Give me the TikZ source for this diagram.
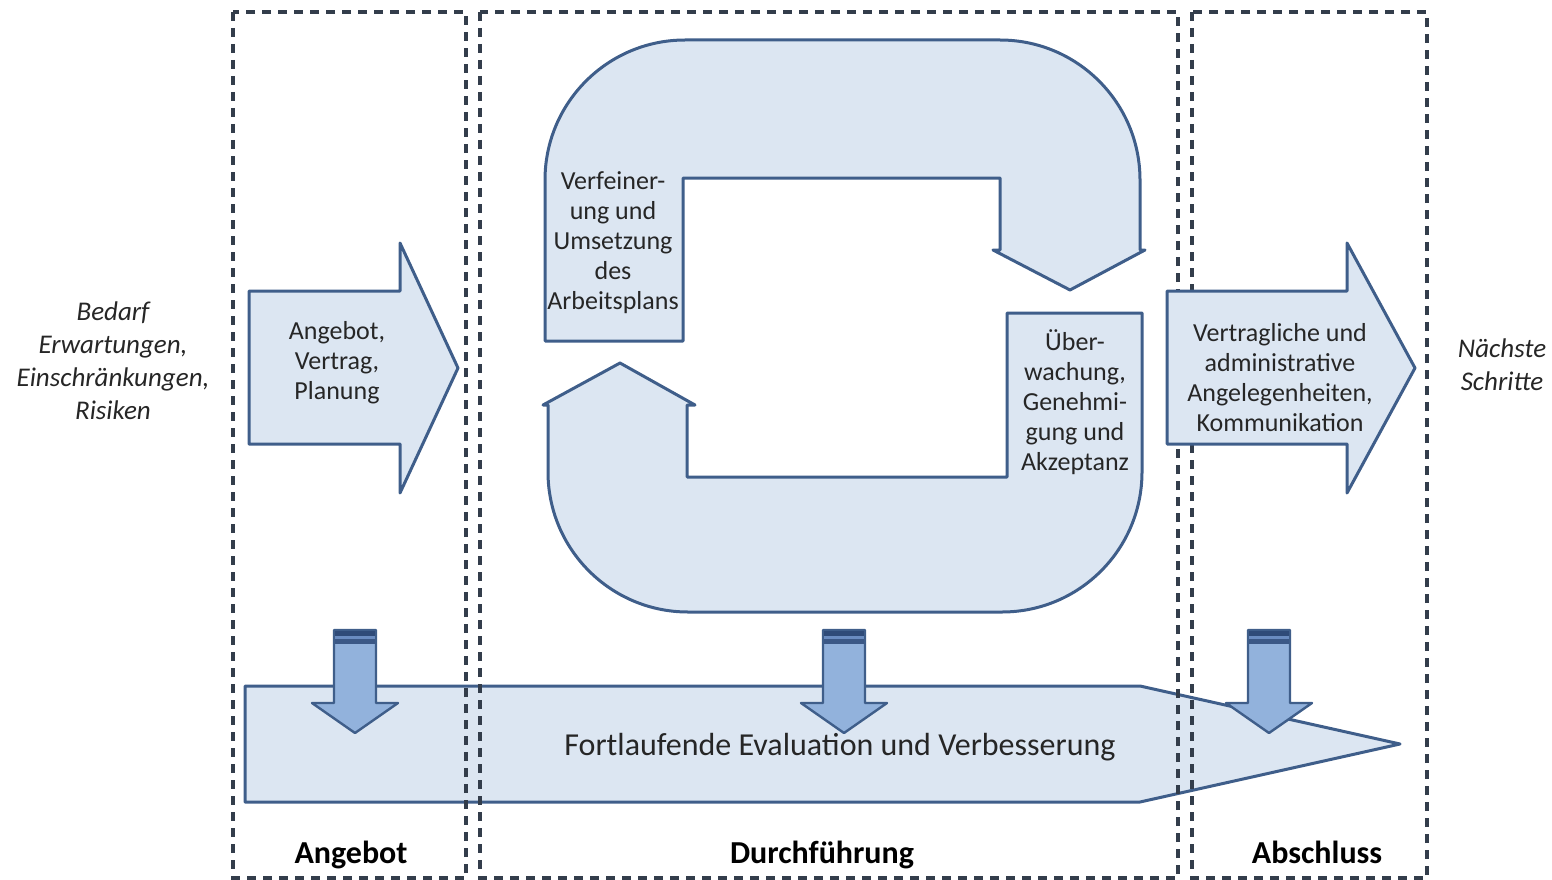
\documentclass[tikz,border=0pt]{standalone}
\usepackage{fontspec}
\setmainfont{Carlito}
\usetikzlibrary{positioning,calc}
\definecolor{dashgray}{HTML}{333D4B}
\definecolor{paleblue}{HTML}{DCE6F2}
\definecolor{edgeblue}{HTML}{3F5E8A}
\definecolor{midblue}{HTML}{92B2DC}
\definecolor{bandnavy}{HTML}{2F4B78}
\definecolor{bandmid}{HTML}{6A8CC0}
\definecolor{ink}{HTML}{262626}
\newcommand{\txt}{\fontsize{26pt}{30pt}\selectfont}
\tikzset{
  phasebox/.style={draw=dashgray, line width=3.4pt, dash pattern=on 9pt off 7pt},
  blockarr/.style={draw=edgeblue, line width=3pt, fill=paleblue, line join=round},
  downarr/.style={draw=edgeblue, line width=2.4pt, fill=midblue, line join=round},
  lab/.style={font=\txt, text=ink, align=center},
  sidelab/.style={font=\fontsize{27pt}{33pt}\selectfont\itshape, text=ink, align=center},
  phaselab/.style={font=\fontsize{32pt}{36pt}\selectfont\bfseries, text=black, anchor=base},
}

\begin{document}
\begin{tikzpicture}[x=1pt, y=-1pt]
    \useasboundingbox (0,0) rectangle (1552,880);
    % long arrow at the bottom
    \draw[blockarr] (245,686) -- (1140,686) -- (1400,744) -- (1140,802) -- (245,802) -- cycle;
    % phases
    \draw[phasebox] (233,12) rectangle (466,878);
    \draw[phasebox] (480,12) rectangle (1178,878);
    \draw[phasebox] (1192,12) rectangle (1427,878);
    % in and out arrows
    \draw[blockarr] (249,291) -- (400,291) -- (400,243) -- (458,368) -- (400,493) -- (400,444) -- (249,444) -- cycle;
    \draw[blockarr] (1167,291) -- (1347,291) -- (1347,243) -- (1415,368) -- (1347,493) -- (1347,444) -- (1167,444) -- cycle;
    % cycle, upper half
    \draw[blockarr] (545,341) -- (683,341) -- (683,178) -- (1000,178) -- (1000,250) -- (993,250)
      -- (1070,290) -- (1145,250) -- (1140,250) -- (1140,180) arc[start angle=0, end angle=-90, radius=140]
      -- (685,40) arc[start angle=-90, end angle=-180, radius=140] -- cycle;
    % cycle, lower half
    \draw[blockarr] (1007,313) -- (1142,313) -- (1142,472) arc[start angle=0, end angle=90, radius=140]
      -- (688,612) arc[start angle=90, end angle=180, radius=140] -- (548,405) -- (543,405)
      -- (620,363) -- (695,405) -- (687,405) -- (687,477) -- (1007,477) -- cycle;
    % small arrows into the evaluation
    \foreach \cx in {355,844,1269} {
      \draw[downarr] (\cx-21,630) -- (\cx+21,630) -- (\cx+21,703) -- (\cx+43,703) -- (\cx,733)
        -- (\cx-43,703) -- (\cx-21,703) -- cycle;
      \fill[bandnavy] (\cx-20,631) rectangle (\cx+20,636);
      \fill[bandmid] (\cx-20,636) rectangle (\cx+20,639);
      \fill[bandnavy!80!bandmid] (\cx-20,639) rectangle (\cx+20,644);
    }
    % texts
    \node[sidelab] (needs) at (113,361) {Bedarf\\Erwartungen,\\Einschränkungen,\\Risiken};
    \node[sidelab] (nextsteps) at (1502,365) {Nächste\\Schritte};
    \node[lab] (offer) at (337,363) {Angebot,\\Vertrag,\\Planung};
    \node[lab] (closing) at (1280,378) {Vertragliche und\\administrative\\Angelegenheiten,\\Kommunikation};
    \node[lab] (refine) at (613,243) {Verfeiner-\\ung und\\Umsetzung\\des\\Arbeitsplans};
    \node[lab] (monitor) at (1075,402) {Über-\\wachung,\\Genehmi-\\gung und\\Akzeptanz};
    \node[font=\fontsize{32pt}{36pt}\selectfont, text=ink] (evaluation) at (840,747) {Fortlaufende Evaluation und Verbesserung};
    \node[phaselab] (phOffer) at (351,863) {Angebot};
    \node[phaselab] (phExec) at (822,863) {Durchführung};
    \node[phaselab] (phClose) at (1317,863) {Abschluss};
  \end{tikzpicture}
\end{document}
